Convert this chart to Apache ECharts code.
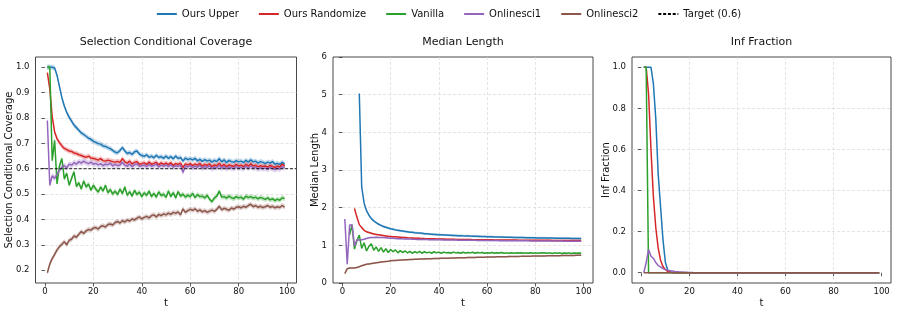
<!DOCTYPE html>
<html><head><meta charset="utf-8">
<script src="https://cdn.jsdelivr.net/npm/echarts@6/dist/echarts.min.js"></script>
<style>html,body{margin:0;padding:0;background:#fff}#c{width:897px;height:314px}</style>
</head><body><div id="c"></div>
<script>
const seriesNames = ['Ours Upper', 'Ours Randomize', 'Vanilla', 'Onlinesci1', 'Onlinesci2'];
const targetName = 'Target (0.6)';
const targetValue = 0.6;
const panelTitles = ['Selection Conditional Coverage', 'Median Length', 'Inf Fraction'];
const yNames = ['Selection Conditional Coverage', 'Median Length', 'Inf Fraction'];
const tTicks = [0, 20, 40, 60, 80, 100];
const covYTicks = [0.2, 0.3, 0.4, 0.5, 0.6, 0.7, 0.8, 0.9, 1.0];
const lenYTicks = [0, 1, 2, 3, 4, 5, 6];
const infYTicks = [0, 0.2, 0.4, 0.6, 0.8, 1.0];

const tAll = []; for (let t = 1; t <= 99; t++) tAll.push(t);

// ---- Selection conditional coverage (t = 1..99)
const covUpper = [1.000,1.000,1.000,0.997,0.968,0.924,0.880,0.847,0.822,0.803,
0.788,0.772,0.762,0.752,0.741,0.735,0.728,0.720,0.716,0.708,
0.704,0.699,0.697,0.690,0.688,0.683,0.679,0.672,0.665,0.663,
0.672,0.684,0.670,0.660,0.664,0.656,0.667,0.670,0.658,0.652,
0.649,0.655,0.645,0.650,0.643,0.653,0.644,0.648,0.641,0.650,
0.641,0.648,0.639,0.650,0.640,0.645,0.630,0.642,0.636,0.640,
0.635,0.641,0.631,0.637,0.629,0.636,0.630,0.634,0.626,0.633,
0.628,0.640,0.627,0.635,0.624,0.633,0.628,0.625,0.632,0.627,
0.630,0.624,0.633,0.626,0.635,0.627,0.630,0.622,0.628,0.625,
0.620,0.626,0.622,0.628,0.618,0.621,0.617,0.625,0.618];
const covRandom = [0.979,0.915,0.805,0.745,0.718,0.703,0.690,0.680,0.675,0.670,
0.668,0.662,0.660,0.655,0.652,0.648,0.645,0.650,0.642,0.640,
0.638,0.634,0.640,0.632,0.630,0.634,0.631,0.628,0.626,0.629,
0.625,0.640,0.627,0.622,0.630,0.619,0.625,0.628,0.618,0.620,
0.623,0.617,0.626,0.618,0.621,0.625,0.615,0.623,0.617,0.622,
0.616,0.624,0.613,0.620,0.617,0.622,0.605,0.619,0.615,0.620,
0.612,0.618,0.614,0.621,0.610,0.617,0.613,0.619,0.608,0.615,
0.612,0.622,0.610,0.617,0.608,0.615,0.612,0.609,0.617,0.611,
0.614,0.608,0.618,0.610,0.620,0.611,0.614,0.607,0.612,0.609,
0.611,0.606,0.613,0.609,0.605,0.610,0.607,0.618,0.610];
const covVanilla = [1.000,1.000,0.632,0.712,0.540,0.612,0.640,0.560,0.582,0.535,
0.562,0.588,0.530,0.545,0.520,0.552,0.528,0.540,0.515,0.535,
0.520,0.508,0.528,0.512,0.535,0.505,0.518,0.500,0.512,0.498,
0.520,0.502,0.528,0.495,0.510,0.492,0.515,0.498,0.508,0.490,
0.505,0.495,0.512,0.490,0.503,0.488,0.509,0.494,0.500,0.487,
0.512,0.490,0.506,0.485,0.510,0.492,0.500,0.488,0.496,0.490,
0.503,0.486,0.498,0.490,0.492,0.485,0.495,0.480,0.470,0.485,
0.492,0.512,0.488,0.490,0.484,0.492,0.486,0.482,0.490,0.485,
0.488,0.480,0.492,0.486,0.490,0.484,0.488,0.481,0.487,0.483,
0.479,0.485,0.477,0.482,0.474,0.480,0.476,0.486,0.482];
const covOnline1 = [0.790,0.535,0.572,0.562,0.578,0.595,0.606,0.612,0.603,0.618,
0.614,0.624,0.618,0.628,0.622,0.630,0.624,0.620,0.626,0.618,
0.621,0.615,0.620,0.612,0.618,0.616,0.622,0.611,0.617,0.612,
0.615,0.625,0.614,0.610,0.618,0.608,0.616,0.619,0.610,0.612,
0.614,0.608,0.617,0.610,0.613,0.618,0.607,0.614,0.609,0.615,
0.608,0.616,0.606,0.612,0.609,0.614,0.585,0.611,0.607,0.612,
0.604,0.610,0.606,0.613,0.602,0.609,0.605,0.611,0.600,0.607,
0.604,0.612,0.602,0.609,0.600,0.607,0.604,0.601,0.609,0.603,
0.606,0.600,0.610,0.602,0.612,0.603,0.606,0.599,0.604,0.601,
0.603,0.598,0.605,0.601,0.597,0.602,0.599,0.608,0.602];
const covOnline2 = [0.190,0.224,0.246,0.262,0.280,0.293,0.302,0.312,0.300,0.318,
0.322,0.335,0.330,0.342,0.352,0.345,0.355,0.360,0.358,0.366,
0.368,0.362,0.372,0.375,0.370,0.380,0.382,0.378,0.388,0.392,
0.386,0.395,0.390,0.398,0.394,0.402,0.398,0.405,0.410,0.402,
0.408,0.412,0.406,0.415,0.418,0.410,0.420,0.415,0.422,0.418,
0.425,0.420,0.428,0.424,0.430,0.418,0.442,0.428,0.435,0.440,
0.436,0.442,0.432,0.438,0.430,0.435,0.428,0.433,0.437,0.432,
0.440,0.452,0.438,0.444,0.440,0.436,0.445,0.441,0.448,0.450,
0.446,0.452,0.448,0.455,0.460,0.450,0.455,0.448,0.452,0.447,
0.450,0.455,0.448,0.452,0.446,0.450,0.447,0.455,0.449];
const covBandHalf = [0.010, 0.010, 0.010, 0.012, 0.010];

// ---- Median length (each series starts at its own t)
const lenStart = [7, 5, 3, 1, 1];
const lenUpper = [5.03,2.55,2.12,1.92,
1.80,1.71,1.65,1.60,1.56,1.53,1.50,1.48,1.46,1.44,
1.425,1.41,1.40,1.39,1.38,1.37,1.36,1.35,1.345,1.335,
1.33,1.325,1.32,1.31,1.305,1.30,1.295,1.29,1.285,1.28,
1.278,1.275,1.272,1.268,1.265,1.262,1.26,1.257,1.255,1.252,
1.25,1.248,1.245,1.243,1.24,1.238,1.236,1.234,1.232,1.23,
1.228,1.226,1.224,1.222,1.22,1.218,1.216,1.215,1.213,1.212,
1.21,1.209,1.207,1.206,1.205,1.203,1.202,1.201,1.20,1.199,
1.198,1.197,1.196,1.195,1.194,1.193,1.192,1.191,1.19,1.189,
1.188,1.187,1.186,1.185,1.184,1.183,1.182,1.181,1.18];
const lenRandom = [1.98,1.75,1.55,1.47,1.40,1.36,
1.34,1.32,1.30,1.29,1.28,1.27,1.26,1.25,1.24,1.235,
1.23,1.225,1.22,1.215,1.21,1.205,1.20,1.198,1.195,1.19,
1.188,1.185,1.183,1.18,1.178,1.176,1.174,1.172,1.17,1.168,
1.166,1.165,1.163,1.162,1.16,1.159,1.158,1.157,1.156,1.155,
1.154,1.153,1.152,1.151,1.15,1.149,1.148,1.147,1.147,1.146,
1.145,1.145,1.144,1.143,1.143,1.142,1.141,1.141,1.14,1.14,
1.139,1.139,1.138,1.138,1.137,1.137,1.136,1.136,1.135,1.135,
1.134,1.134,1.133,1.133,1.132,1.132,1.131,1.131,1.13,1.13,
1.13,1.129,1.129,1.128,1.128,1.128,1.127,1.127,1.127];
const lenVanilla = [1.28,1.55,0.90,1.12,1.27,0.92,1.07,0.85,
0.97,1.04,0.87,0.96,0.84,0.94,0.82,0.91,0.81,0.89,
0.83,0.88,0.80,0.86,0.81,0.85,0.80,0.84,0.79,0.83,
0.80,0.84,0.79,0.83,0.80,0.82,0.79,0.83,0.80,0.82,
0.79,0.82,0.80,0.81,0.79,0.82,0.80,0.81,0.79,0.815,
0.795,0.81,0.80,0.815,0.79,0.81,0.80,0.81,0.79,0.805,
0.795,0.81,0.79,0.805,0.795,0.81,0.79,0.80,0.79,0.805,
0.79,0.80,0.795,0.805,0.79,0.80,0.79,0.805,0.79,0.80,
0.79,0.80,0.795,0.80,0.79,0.80,0.785,0.80,0.79,0.80,
0.785,0.795,0.79,0.80,0.785,0.795,0.79,0.795,0.79];
const lenOnline1 = [1.70,0.50,1.54,1.54,0.98,1.15,1.14,1.15,1.16,1.18,
1.20,1.21,1.21,1.215,1.21,1.21,1.205,1.20,1.195,1.19,
1.185,1.18,1.178,1.175,1.172,1.17,1.168,1.165,1.163,1.16,
1.158,1.156,1.155,1.153,1.152,1.15,1.149,1.148,1.147,1.146,
1.145,1.144,1.143,1.142,1.141,1.14,1.139,1.138,1.137,1.136,
1.135,1.134,1.134,1.133,1.132,1.131,1.131,1.13,1.129,1.129,
1.128,1.127,1.127,1.126,1.125,1.125,1.124,1.124,1.123,1.122,
1.122,1.121,1.121,1.12,1.12,1.119,1.119,1.118,1.118,1.117,
1.117,1.116,1.116,1.115,1.115,1.114,1.114,1.113,1.113,1.112,
1.112,1.111,1.111,1.11,1.11,1.11,1.109,1.109,1.108];
const lenOnline2 = [0.25,0.38,0.40,0.40,0.40,0.41,0.43,0.46,0.48,0.495,
0.505,0.515,0.525,0.535,0.545,0.555,0.565,0.573,0.58,0.588,
0.595,0.60,0.604,0.608,0.612,0.616,0.62,0.623,0.626,0.629,
0.632,0.635,0.637,0.64,0.642,0.644,0.646,0.648,0.65,0.652,
0.654,0.656,0.658,0.66,0.662,0.664,0.666,0.668,0.67,0.672,
0.673,0.675,0.677,0.678,0.68,0.682,0.683,0.685,0.686,0.688,
0.689,0.691,0.692,0.694,0.695,0.697,0.698,0.699,0.701,0.702,
0.703,0.705,0.706,0.707,0.709,0.71,0.711,0.712,0.714,0.715,
0.716,0.717,0.718,0.72,0.721,0.722,0.723,0.724,0.725,0.726,
0.727,0.728,0.73,0.731,0.732,0.733,0.734,0.735,0.736];
const lenBandHalf = [0.03, 0.02, 0.02, 0.02, 0.02];

// ---- Inf fraction (t = 1..99)
const infUpper = [1,1,1,1,0.92,0.75,0.48,0.32,0.16,0.05,0.012,0.004,0.001,0,0,0,0,0,0,0,
0,0,0,0,0,0,0,0,0,0,0,0,0,0,0,0,0,0,0,0,0,0,0,0,0,0,0,0,0,0,0,0,0,0,0,0,0,0,0,0,
0,0,0,0,0,0,0,0,0,0,0,0,0,0,0,0,0,0,0,0,0,0,0,0,0,0,0,0,0,0,0,0,0,0,0,0,0,0,0];
const infRandom = [1,1,0.87,0.60,0.37,0.22,0.12,0.06,0.03,0.015,0.006,0.002,0.001,0,0,0,0,0,0,0,
0,0,0,0,0,0,0,0,0,0,0,0,0,0,0,0,0,0,0,0,0,0,0,0,0,0,0,0,0,0,0,0,0,0,0,0,0,0,0,0,
0,0,0,0,0,0,0,0,0,0,0,0,0,0,0,0,0,0,0,0,0,0,0,0,0,0,0,0,0,0,0,0,0,0,0,0,0,0,0];
const infVanilla = [1,1,0,0,0,0,0,0,0,0,0,0,0,0,0,0,0,0,0,0,
0,0,0,0,0,0,0,0,0,0,0,0,0,0,0,0,0,0,0,0,0,0,0,0,0,0,0,0,0,0,0,0,0,0,0,0,0,0,0,0,
0,0,0,0,0,0,0,0,0,0,0,0,0,0,0,0,0,0,0,0,0,0,0,0,0,0,0,0,0,0,0,0,0,0,0,0,0,0,0];
const infOnline1 = [0,0.05,0.113,0.08,0.07,0.05,0.035,0.028,0.02,0.015,0.012,0.01,0.008,0.006,0.005,0.004,0.003,0.002,0.002,0.001,
0.001,0,0,0,0,0,0,0,0,0,0,0,0,0,0,0,0,0,0,0,0,0,0,0,0,0,0,0,0,0,0,0,0,0,0,0,0,0,0,0,
0,0,0,0,0,0,0,0,0,0,0,0,0,0,0,0,0,0,0,0,0,0,0,0,0,0,0,0,0,0,0,0,0,0,0,0,0,0,0];
const infOnline2 = [0,0,0,0,0,0,0,0,0,0,0,0,0,0,0,0,0,0,0,0,
0,0,0,0,0,0,0,0,0,0,0,0,0,0,0,0,0,0,0,0,0,0,0,0,0,0,0,0,0,0,0,0,0,0,0,0,0,0,0,0,
0,0,0,0,0,0,0,0,0,0,0,0,0,0,0,0,0,0,0,0,0,0,0,0,0,0,0,0,0,0,0,0,0,0,0,0,0,0,0];

const colors = ['#1f77b4', '#d62728', '#2ca02c', '#9467bd', '#8c564b'];
const FONT = 'DejaVu Sans';
const TXT = '#111';

const grids = [
  {left: 35.5, top: 57, width: 261, height: 226},
  {left: 333, top: 57, width: 260, height: 226},
  {left: 632, top: 57, width: 259, height: 226}
];
const xRange = [-3.9, 103.9];
const yRanges = [[0.1495, 1.0405], [0, 6], [-0.05, 1.05]];
const yTickSets = [covYTicks, lenYTicks, infYTicks];
const yNameGaps = [21, 13, 21];

function tsFrom(start, n) { const a = []; for (let i = 0; i < n; i++) a.push(start + i); return a; }

const covData = [covUpper, covRandom, covVanilla, covOnline1, covOnline2];
const lenData = [lenUpper, lenRandom, lenVanilla, lenOnline1, lenOnline2];
const infData = [infUpper, infRandom, infVanilla, infOnline1, infOnline2];

function lineSeries(gi, name, color, xs, ys) {
  return {
    type: 'line', name, xAxisIndex: gi, yAxisIndex: gi, symbol: 'none', showSymbol: false,
    data: xs.map((t, i) => [t, ys[i]]), z: 3, animation: false,
    lineStyle: {color, width: 1.5}, itemStyle: {color}, emphasis: {disabled: true}
  };
}
function bandSeries(gi, color, xs, ys, hw) {
  return {
    type: 'custom', xAxisIndex: gi, yAxisIndex: gi, silent: true, z: 2, animation: false,
    data: xs.map((t, i) => [t, ys[i]]), encode: {x: 0, y: 1},
    renderItem(params, api) {
      if (params.dataIndex !== 0) return null;
      const up = [], lo = [];
      for (let i = 0; i < xs.length; i++) {
        up.push(api.coord([xs[i], ys[i] + hw]));
        lo.push(api.coord([xs[i], ys[i] - hw]));
      }
      return {type: 'polygon', shape: {points: up.concat(lo.reverse())},
        style: {fill: color, opacity: 0.28, stroke: null}};
    }
  };
}

const series = [];
for (let k = 0; k < 5; k++) series.push(bandSeries(0, colors[k], tAll, covData[k], covBandHalf[k]));
for (let k = 0; k < 5; k++) {
  const xs = tsFrom(lenStart[k], lenData[k].length);
  series.push(bandSeries(1, colors[k], xs, lenData[k], lenBandHalf[k]));
}
for (let k = 0; k < 5; k++) series.push(lineSeries(0, seriesNames[k], colors[k], tAll, covData[k]));
series.push({
  type: 'line', name: targetName, xAxisIndex: 0, yAxisIndex: 0, symbol: 'none', z: 4, animation: false,
  data: [[xRange[0], targetValue], [xRange[1], targetValue]],
  lineStyle: {color: '#000', width: 0.9, type: [3, 1.8]}, itemStyle: {color: '#000'}
});
for (let k = 0; k < 5; k++) series.push(lineSeries(1, seriesNames[k], colors[k], tsFrom(lenStart[k], lenData[k].length), lenData[k]));
for (let k = 0; k < 5; k++) series.push(lineSeries(2, seriesNames[k], colors[k], tAll, infData[k]));

const splitLineStyle = {show: true, showMinLine: false, showMaxLine: false,
  lineStyle: {color: '#d9d9d9', width: 0.7, type: [3, 2]}};

const xAxes = grids.map((g, i) => ({
  type: 'value', gridIndex: i, min: xRange[0], max: xRange[1], splitNumber: 5,
  name: 't', nameLocation: 'middle', nameGap: 15, nameMoveOverlap: false,
  nameTextStyle: {fontFamily: FONT, fontSize: 10, color: TXT},
  axisLine: {show: false},
  axisTick: {show: true, length: 3.5, customValues: tTicks, lineStyle: {color: '#333', width: 0.8}},
  axisLabel: {customValues: tTicks, margin: 4.5, fontFamily: FONT, fontSize: 8.5, color: TXT,
    formatter: v => String(Math.round(v))},
  splitLine: splitLineStyle
}));
const yAxes = grids.map((g, i) => ({
  type: 'value', gridIndex: i, min: yRanges[i][0], max: yRanges[i][1],
  splitNumber: i === 0 ? 9 : (i === 1 ? 6 : 5),
  interval: i === 1 ? 1 : undefined,
  name: yNames[i], nameLocation: 'middle', nameGap: yNameGaps[i], nameMoveOverlap: false,
  nameTextStyle: {fontFamily: FONT, fontSize: 10, color: TXT},
  axisLine: {show: false},
  axisTick: {show: true, length: 3.5, customValues: yTickSets[i], lineStyle: {color: '#333', width: 0.8}},
  axisLabel: {customValues: yTickSets[i], margin: 6, fontFamily: FONT, fontSize: 8.5, color: TXT,
    formatter: v => (i === 1 ? String(Math.round(v)) : v.toFixed(1))},
  splitLine: splitLineStyle
}));

const titleCenters = [166, 463, 761.5];
const chart = echarts.init(document.getElementById('c'), null, {renderer: 'canvas'});
chart.setOption({
  animation: false,
  backgroundColor: '#fff',
  title: panelTitles.map((t, i) => ({
    text: t, left: titleCenters[i], top: 36.5, textAlign: 'center', padding: 0,
    textStyle: {fontFamily: FONT, fontSize: 11, fontWeight: 'normal', color: TXT}
  })),
  legend: {
    top: 9, left: 'center', padding: 0, itemWidth: 20, itemHeight: 3, itemGap: 19,
    itemStyle: {opacity: 0, borderWidth: 0},
    data: seriesNames.concat([targetName]),
    textStyle: {fontFamily: FONT, fontSize: 10, color: TXT}
  },
  grid: grids.map(g => Object.assign({show: true, borderColor: '#333', borderWidth: 0.9,
    backgroundColor: 'transparent', containLabel: false, outerBoundsMode: 'none'}, g)),
  xAxis: xAxes,
  yAxis: yAxes,
  series
});
</script></body></html>
